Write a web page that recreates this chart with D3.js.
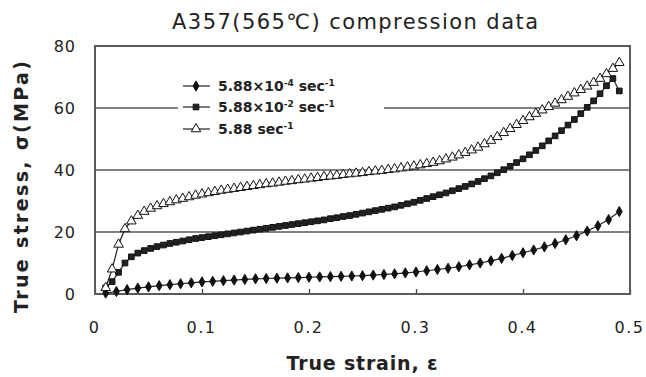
<!DOCTYPE html>
<html><head><meta charset="utf-8">
<script src="https://cdn.jsdelivr.net/npm/d3@7"></script>
<style>
html,body{margin:0;padding:0;background:#fff;}
text{font-family:"DejaVu Sans","Noto Sans CJK KR",sans-serif;fill:#222;}
</style></head>
<body><svg id="c" width="646" height="377"></svg>
<script>
// ---------- data ----------
const title = "A357(565\u2103) compression data";
const xTitle = "True strain, \u03b5";
const yTitle = "True stress, \u03c3(MPa)";
const xTickValues = [0, 0.1, 0.2, 0.3, 0.4, 0.5];
const xTickLabels = ["0", "0.1", "0.2", "0.3", "0.4", "0.5"];
const yTickValues = [0, 20, 40, 60, 80];
const yTickLabels = ["0", "20", "40", "60", "80"];
const seriesNames = ["5.88\u00d710|-4| sec|-1|", "5.88\u00d710|-2| sec|-1|", "5.88 sec|-1|"];

const strainSlow = [0.01,0.02,0.03,0.04,0.05,0.06,0.07,0.08,0.09,0.10,0.11,0.12,0.13,0.14,0.15,0.16,0.17,0.18,0.19,0.20,
  0.21,0.22,0.23,0.24,0.25,0.26,0.27,0.28,0.29,0.30,0.31,0.32,0.33,0.34,0.35,0.36,0.37,0.38,0.39,0.40,
  0.41,0.42,0.43,0.44,0.45,0.46,0.47,0.48,0.49];
const stressSlow = [0.3,0.8,1.4,1.9,2.3,2.7,3.0,3.3,3.6,3.9,4.1,4.3,4.5,4.7,4.9,5.0,5.1,5.2,5.3,5.4,
  5.5,5.6,5.7,5.8,5.9,6.1,6.3,6.5,6.8,7.1,7.5,7.9,8.3,8.8,9.4,10.0,10.7,11.5,12.4,13.3,
  14.2,15.2,16.3,17.5,18.8,20.3,22.0,24.0,26.6];

const strainFine = [0.010,0.016,0.022,0.028,0.034,0.040,0.046,0.052,0.058,0.064,0.070,0.076,0.082,0.088,0.094,0.100,
  0.106,0.112,0.118,0.124,0.130,0.136,0.142,0.148,0.154,0.160,0.166,0.172,0.178,0.184,0.190,0.196,
  0.202,0.208,0.214,0.220,0.226,0.232,0.238,0.244,0.250,0.256,0.262,0.268,0.274,0.280,0.286,0.292,
  0.298,0.304,0.310,0.316,0.322,0.328,0.334,0.340,0.346,0.352,0.358,0.364,0.370,0.376,0.382,0.388,
  0.394,0.400,0.406,0.412,0.418,0.424,0.430,0.436,0.442,0.448,0.454,0.460,0.466,0.472,0.478,0.484,0.490];
const stressMid = [2,4,7,10,12,13.2,14.0,14.7,15.3,15.8,16.3,16.7,17.1,17.5,17.9,18.2,
  18.5,18.8,19.1,19.4,19.7,20.0,20.3,20.6,20.9,21.2,21.5,21.8,22.1,22.4,22.7,23.0,
  23.3,23.6,23.9,24.3,24.6,25.0,25.3,25.7,26.1,26.5,26.9,27.3,27.7,28.1,28.6,29.1,
  29.6,30.2,30.8,31.4,32.0,32.6,33.3,34.0,34.7,35.5,36.3,37.2,38.1,39.1,40.1,41.2,
  42.4,43.6,44.9,46.3,47.8,49.4,51.0,52.7,54.5,56.3,58.2,60.2,62.3,64.6,67.2,69.5,65.5];
const stressFast = [2,8,16,21,23.5,25.3,26.6,27.6,28.4,29.1,29.7,30.3,30.8,31.3,31.8,32.2,
  32.6,33.0,33.4,33.7,34.0,34.3,34.6,34.9,35.2,35.5,35.7,36.0,36.3,36.5,36.8,37.0,
  37.3,37.5,37.8,38.0,38.2,38.5,38.7,38.9,39.1,39.4,39.6,39.8,40.1,40.3,40.6,40.9,
  41.2,41.6,42.0,42.4,42.9,43.5,44.1,44.8,45.6,46.4,47.3,48.4,49.5,50.7,52.0,53.3,
  54.6,55.9,57.1,58.2,59.3,60.4,61.5,62.6,63.7,64.8,65.9,67.0,68.2,69.5,71.0,72.7,74.6];

// ---------- drawing ----------
const svg = d3.select("#c");
const x = d3.scaleLinear().domain([0, 0.5]).range([95, 630]);
const y = d3.scaleLinear().domain([0, 80]).range([294, 46]);

// gridlines
svg.append("g").selectAll("line").data(yTickValues.filter(v => v > 0 && v < 80)).join("line")
  .attr("x1", x(0)).attr("x2", x(0.5)).attr("y1", d => y(d)).attr("y2", d => y(d))
  .attr("stroke", "#5a5a5a").attr("stroke-width", 1.6);

// x axis
const xAxis = d3.axisBottom(x).tickValues(xTickValues)
  .tickFormat((d, i) => xTickLabels[i]).tickSizeInner(-5).tickSizeOuter(0).tickPadding(28);
const gx = svg.append("g").attr("transform", `translate(0,${y(0)})`).call(xAxis);
gx.select(".domain").remove();
gx.selectAll(".tick line").attr("stroke", "#444").attr("stroke-width", 1.3);
gx.selectAll(".tick text").attr("font-size", 16).attr("letter-spacing", 1.5)
  .attr("fill", "#333").attr("dx", -1).style("font-family", "DejaVu Sans");

// y axis
const yAxis = d3.axisLeft(y).tickValues(yTickValues)
  .tickFormat((d, i) => yTickLabels[i]).tickSize(0).tickPadding(19);
const gy = svg.append("g").attr("transform", `translate(${x(0)},0)`).call(yAxis);
gy.select(".domain").remove();
gy.selectAll(".tick text").attr("font-size", 16).attr("letter-spacing", 1)
  .attr("fill", "#333").style("font-family", "DejaVu Sans");

// frame
svg.append("rect").attr("x", x(0)).attr("y", y(80)).attr("width", x(0.5) - x(0)).attr("height", y(0) - y(80))
  .attr("fill", "none").attr("stroke", "#5a5a5a").attr("stroke-width", 2);

// series
const line = d3.line().x(d => x(d[0])).y(d => y(d[1]));
const series = [
  {pts: d3.zip(strainSlow, stressSlow), sym: d3.symbolDiamond, size: 30, fill: "#111"},
  {pts: d3.zip(strainFine, stressMid), sym: d3.symbolSquare, size: 32, fill: "#222"},
  {pts: d3.zip(strainFine, stressFast), sym: d3.symbolTriangle, size: 40, fill: "#fff"}
];
series.forEach(s => {
  const g = svg.append("g");
  g.append("path").attr("d", line(s.pts)).attr("fill", "none").attr("stroke", "#222").attr("stroke-width", 1.2);
  g.selectAll("path.m").data(s.pts).join("path").attr("class", "m")
    .attr("transform", d => `translate(${x(d[0])},${y(d[1])})`)
    .attr("d", d3.symbol().type(s.sym).size(s.size)())
    .attr("fill", s.fill).attr("stroke", "#111").attr("stroke-width", 1);
});

// legend
const lg = svg.append("g");
lg.append("rect").attr("x", 178).attr("y", 76).attr("width", 206).attr("height", 64).attr("fill", "#fff");
const legY = [86, 107, 129];
series.forEach((s, i) => {
  lg.append("line").attr("x1", 183).attr("x2", 210).attr("y1", legY[i]).attr("y2", legY[i])
    .attr("stroke", "#222").attr("stroke-width", 1.2);
  lg.append("path").attr("transform", `translate(196,${legY[i]})`)
    .attr("d", d3.symbol().type(s.sym).size(s.size)())
    .attr("fill", s.fill).attr("stroke", "#111").attr("stroke-width", 1);
  const t = lg.append("text").attr("x", 218).attr("y", legY[i] + 5).attr("font-size", 14)
    .attr("font-weight", "bold").attr("fill", "#333");
  const parts = seriesNames[i].split("|");
  parts.forEach((p, k) => {
    if (k % 2 === 0) {
      t.append("tspan").attr("dy", k === 0 ? 0 : 5).attr("font-size", 14).text(p);
    } else {
      t.append("tspan").attr("dy", -5).attr("font-size", 9).text(p);
    }
  });
});

// titles
svg.append("text").attr("x", 355).attr("y", 29).attr("text-anchor", "middle")
  .attr("font-size", 21).attr("fill", "#222").attr("textLength", 366).attr("lengthAdjust", "spacing").text(title);
svg.append("text").attr("x", 362).attr("y", 370).attr("text-anchor", "middle").attr("font-weight", "bold")
  .attr("font-size", 19).attr("fill", "#333").attr("textLength", 151).attr("lengthAdjust", "spacing").text(xTitle);
svg.append("text").attr("transform", "translate(28,187) rotate(-90)").attr("text-anchor", "middle").attr("font-weight", "bold")
  .attr("font-size", 19).attr("fill", "#333").attr("textLength", 252).attr("lengthAdjust", "spacing").text(yTitle);
</script></body></html>
